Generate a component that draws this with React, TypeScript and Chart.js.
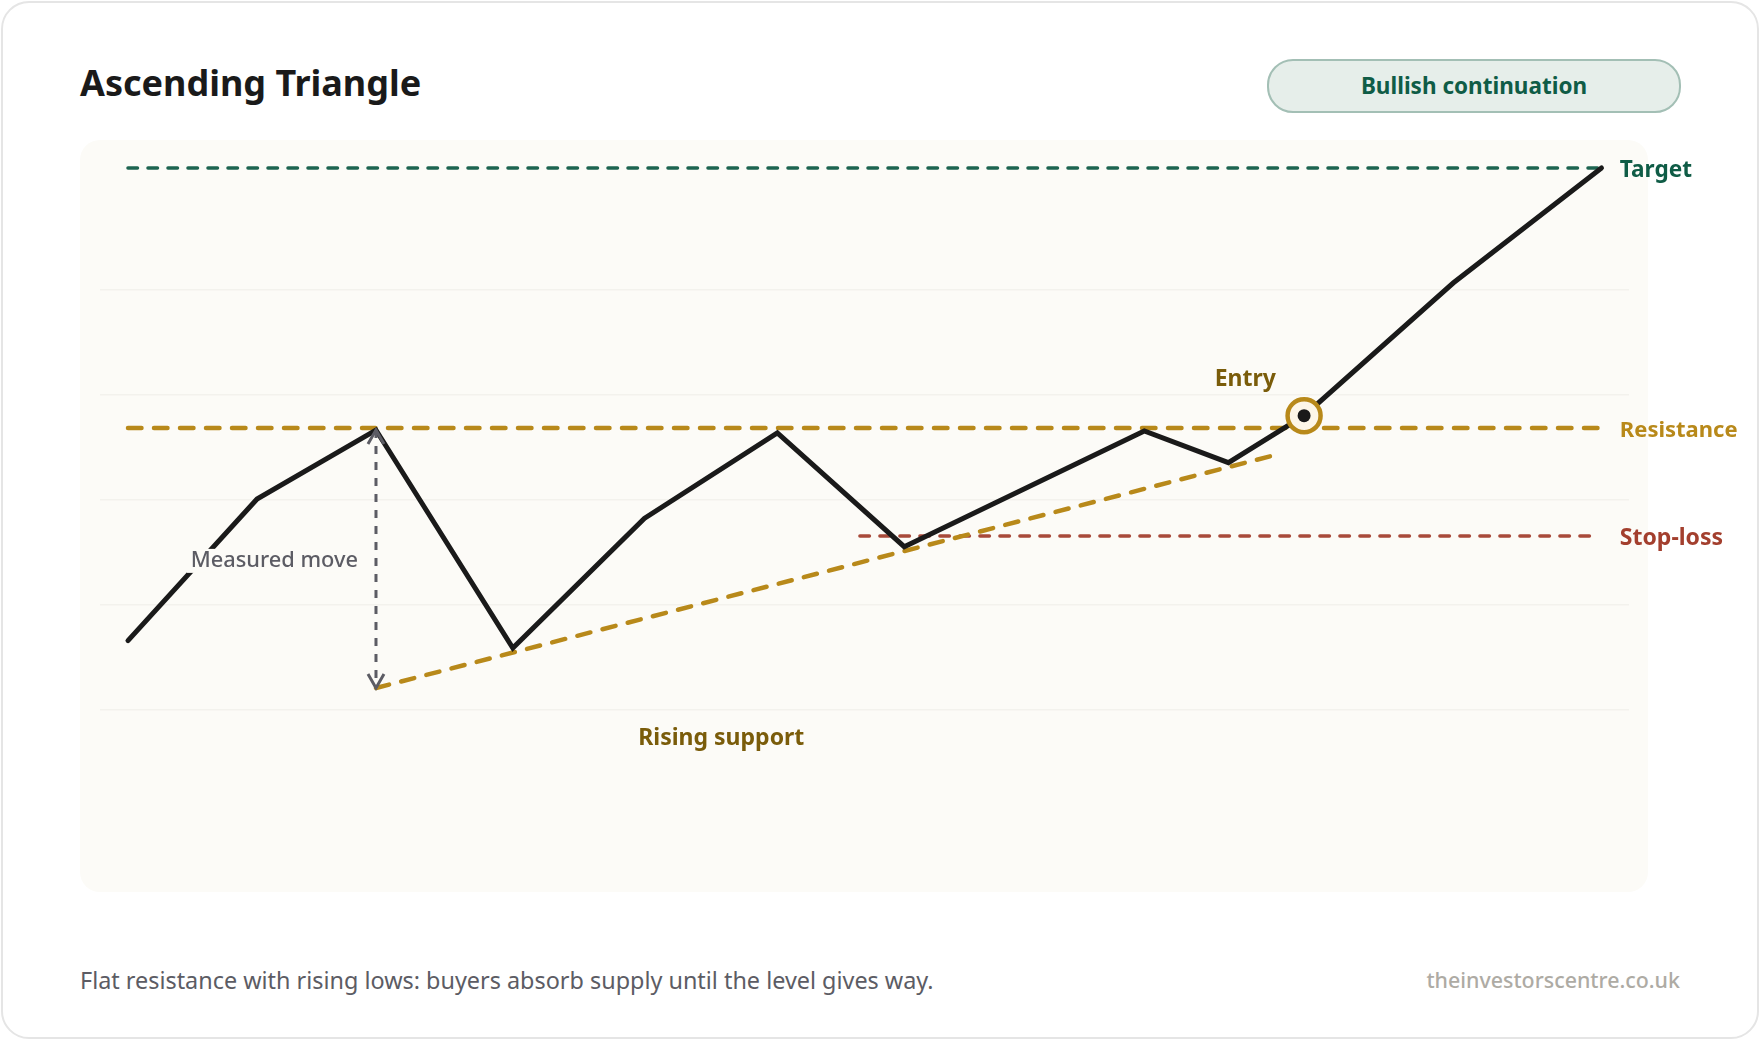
import React, { useEffect, useRef } from 'react';
import { Chart, registerables } from 'chart.js';

Chart.register(...registerables);

// x is a 0-100 session scale, y a price scale
const priceX = [1.83, 10.27, 18.05, 27.0, 35.6, 44.3, 52.6, 68.3, 73.8, 78.75, 88.5, 98.2];
const priceY = [53.2, 80.19, 93.33, 51.81, 76.48, 92.76, 71.1, 93.14, 87.1, 96.06, 121.33, 143.24];

const levelX = [1.83, 98.2];
const targetLevel = 143.24;
const resistanceLevel = 93.71;
const stopLossLevel = 73.14;
const stopLossX = [49.7, 97.6];

const supportX = [18.05, 76.6];
const supportY = [44.19, 88.38];

const measuredX = 18.05;
const measuredY = [93.33, 44.19];

const entryX = 78.75;
const entryY = 96.06;

const gridValues = [40, 60, 80, 100, 120];

const FONT = '"Noto Sans", "Open Sans", sans-serif';
const GOLD = '#b8891a';
const PANEL = '#fcfbf7';

const toPoints = (xs: number[], ys: number[]) => xs.map((x, i) => ({ x, y: ys[i] }));

const annotations = [
  { text: 'Target', x: 99.4, y: targetLevel, color: '#0f5c46', size: 22.6 },
  { text: 'Resistance', x: 99.4, y: resistanceLevel, color: GOLD, size: 22 },
  { text: 'Stop-loss', x: 99.4, y: stopLossLevel, color: '#a33f2e', size: 23 },
  { text: 'Entry', x: 72.9, y: 103.5, color: '#7a5c0a', size: 23 },
  { text: 'Rising support', x: 35.2, y: 35.1, color: '#7a5c0a', size: 23 },
];

const overlayPlugin = {
  id: 'overlay',
  afterDatasetsDraw(chart: any) {
    const { ctx, scales } = chart;
    const px = (v: number) => scales.x.getPixelForValue(v);
    const py = (v: number) => scales.y.getPixelForValue(v);

    // measured move arrow heads
    ctx.save();
    ctx.strokeStyle = '#5c5c64';
    ctx.lineWidth = 3;
    ctx.lineJoin = 'miter';
    const top = py(measuredY[0]);
    const bottom = py(measuredY[1]);
    const mx = px(measuredX);
    ctx.beginPath();
    ctx.moveTo(mx - 8, top + 14);
    ctx.lineTo(mx, top);
    ctx.lineTo(mx + 8, top + 14);
    ctx.moveTo(mx - 8, bottom - 14);
    ctx.lineTo(mx, bottom);
    ctx.lineTo(mx + 8, bottom - 14);
    ctx.stroke();

    // measured move label sits on a panel coloured box that cuts the price line
    const labelY = py(68.4);
    ctx.font = `500 21.8px ${FONT}`;
    ctx.textBaseline = 'middle';
    ctx.textAlign = 'right';
    const w = ctx.measureText('Measured move').width;
    ctx.fillStyle = PANEL;
    ctx.fillRect(mx - 18 - w - 4, labelY - 12, w + 8, 24);
    ctx.fillStyle = '#5c5c64';
    ctx.fillText('Measured move', mx - 18, labelY);

    ctx.textAlign = 'left';
    annotations.forEach((a) => {
      ctx.font = `700 ${a.size}px ${FONT}`;
      ctx.fillStyle = a.color;
      ctx.fillText(a.text, px(a.x), py(a.y) + 2.5);
    });
    ctx.restore();
  },
};

function AscendingTriangle() {
  const chartRef = useRef<HTMLCanvasElement>(null);

  useEffect(() => {
    if (!chartRef.current) return;
    const ctx = chartRef.current.getContext('2d');
    if (!ctx) return;

    const chart = new Chart(ctx, {
      type: 'scatter',
      data: {
        datasets: [
          {
            label: 'Entry dot',
            data: [{ x: entryX, y: entryY }],
            pointRadius: 6.5,
            pointBackgroundColor: '#1a1a1a',
            pointBorderWidth: 0,
          },
          {
            label: 'Entry',
            data: [{ x: entryX, y: entryY }],
            pointRadius: 16.5,
            pointBackgroundColor: '#fdf6e8',
            pointBorderColor: GOLD,
            pointBorderWidth: 4.5,
          },
          {
            label: 'Measured move',
            data: toPoints([measuredX, measuredX], measuredY),
            showLine: true,
            pointRadius: 0,
            borderColor: '#5c5c64',
            borderWidth: 3,
            borderDash: [8, 8],
          },
          {
            label: 'Price',
            data: toPoints(priceX, priceY),
            showLine: true,
            pointRadius: 0,
            borderColor: '#1a1a1a',
            borderWidth: 5,
            borderCapStyle: 'round',
            borderJoinStyle: 'miter',
          },
          {
            label: 'Rising support',
            data: toPoints(supportX, supportY),
            showLine: true,
            pointRadius: 0,
            borderColor: GOLD,
            borderWidth: 4.5,
            borderDash: [13.5, 12.5],
            borderCapStyle: 'round',
          },
          {
            label: 'Stop-loss',
            data: toPoints(stopLossX, [stopLossLevel, stopLossLevel]),
            showLine: true,
            pointRadius: 0,
            borderColor: '#a84a3a',
            borderWidth: 3.5,
            borderDash: [9.5, 10.5],
            borderCapStyle: 'round',
          },
          {
            label: 'Resistance',
            data: toPoints(levelX, [resistanceLevel, resistanceLevel]),
            showLine: true,
            pointRadius: 0,
            borderColor: GOLD,
            borderWidth: 4.5,
            borderDash: [13.5, 12.5],
            borderCapStyle: 'round',
          },
          {
            label: 'Target',
            data: toPoints(levelX, [targetLevel, targetLevel]),
            showLine: true,
            pointRadius: 0,
            borderColor: '#1d6450',
            borderWidth: 3.5,
            borderDash: [9.5, 10.5],
            borderCapStyle: 'round',
          },
        ],
      },
      options: {
        animation: false,
        responsive: false,
        layout: { padding: { left: 100, right: 131, top: 140, bottom: 148 } },
        plugins: { legend: { display: false }, tooltip: { enabled: false } },
        scales: {
          x: { type: 'linear', display: false, min: 0, max: 100 },
          y: {
            type: 'linear',
            min: 5.33,
            max: 148.57,
            afterBuildTicks: (axis: any) => {
              axis.ticks = gridValues.map((value) => ({ value }));
            },
            ticks: { display: false },
            border: { display: false },
            grid: { color: '#f3f2ed', lineWidth: 1.5, drawTicks: false },
          },
        },
      },
      plugins: [overlayPlugin],
    } as any);

    return () => {
      chart.destroy();
    };
  }, []);

  return (
    <div style={{ position: 'relative', width: 1760, height: 1040, background: '#fff', fontFamily: FONT, overflow: 'hidden' }}>
      <style>{'body{margin:0}'}</style>
      <div style={{ position: 'absolute', left: 1, top: 1, width: 1754, height: 1034, border: '2px solid #e5e5e5', borderRadius: 28 }} />
      <div style={{ position: 'absolute', left: 80, top: 140, width: 1568, height: 752, background: PANEL, borderRadius: 20 }} />
      <div style={{ position: 'absolute', left: 80, top: 58, fontSize: 36, fontWeight: 700, lineHeight: '50px', color: '#1a1a1a' }}>
        Ascending Triangle
      </div>
      <div style={{ position: 'absolute', left: 1267, top: 59, width: 410, height: 50, lineHeight: '49px', border: '2px solid #a3bfb5', borderRadius: 26, background: '#e6eeea', color: '#0f5c46', fontSize: 22.5, fontWeight: 700, textAlign: 'center' }}>
        Bullish continuation
      </div>
      <div style={{ position: 'absolute', left: 80, top: 962, fontSize: 23.4, lineHeight: '36px', color: '#5c5c64' }}>
        Flat resistance with rising lows: buyers absorb supply until the level gives way.
      </div>
      <div style={{ position: 'absolute', right: 80, top: 962, fontSize: 21.4, fontWeight: 500, lineHeight: '36px', color: '#aeaba4' }}>
        theinvestorscentre.co.uk
      </div>
      <canvas ref={chartRef} width={1760} height={1040} style={{ position: 'absolute', left: 0, top: 0 }} />
    </div>
  );
}

export default AscendingTriangle;
